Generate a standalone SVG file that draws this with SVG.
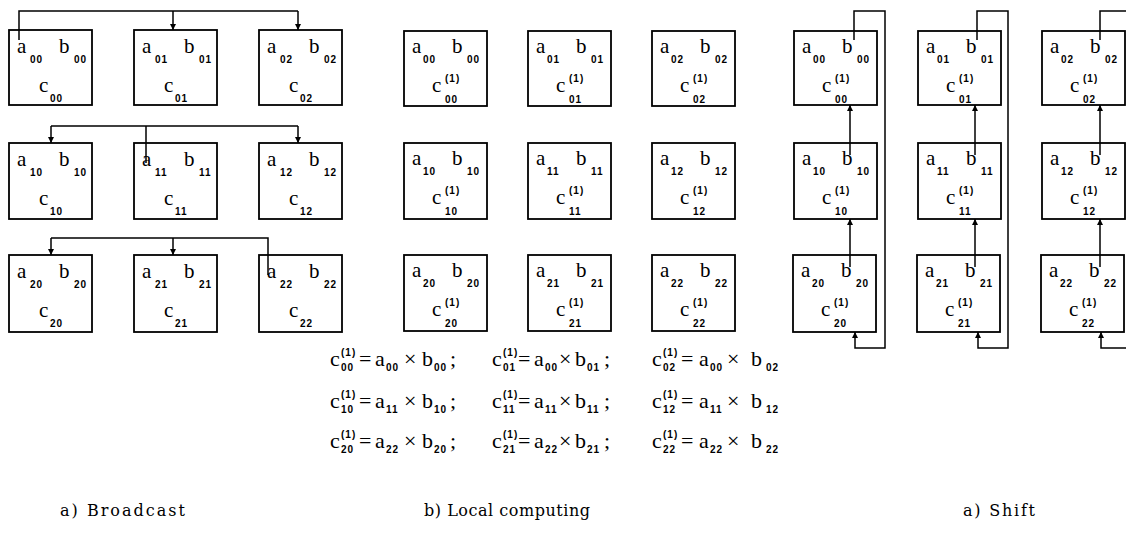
<svg xmlns="http://www.w3.org/2000/svg" width="1126" height="546" viewBox="0 0 1126 546">
<style>
.box{fill:#fff;stroke:#000;stroke-width:1.8}
.ln{fill:none;stroke:#000;stroke-width:1.5}
.m{font-family:"Liberation Serif",serif;font-size:21px;fill:#000}
.s{font-family:"Liberation Sans",sans-serif;font-size:10px;font-weight:bold;letter-spacing:1px;fill:#000}
.f{font-family:"Liberation Serif",serif;font-size:22px;fill:#000}
.fs{font-family:"Liberation Sans",sans-serif;font-size:10px;font-weight:bold;letter-spacing:1px}
.cap{font-family:"DejaVu Serif",serif;font-size:16px;fill:#000}
</style>
<defs>
<marker id="ah" markerWidth="6" markerHeight="6" refX="6" refY="3" orient="auto" markerUnits="userSpaceOnUse" viewBox="0 0 6 6">
<path d="M0,0 L6,3 L0,6 Z" fill="#000"/>
</marker>
</defs>

<!-- Broadcast nodes -->
<g id="A00" transform="translate(9,30)"><rect class="box" width="83" height="75"/><text class="m" x="8" y="23">a</text><text class="s" x="21" y="33">00</text><text class="m" x="50" y="23">b</text><text class="s" x="65" y="33">00</text><text class="m" x="30" y="62">c</text><text class="s" x="41" y="72">00</text></g>
<g id="A01" transform="translate(134,30)"><rect class="box" width="83" height="75"/><text class="m" x="8" y="23">a</text><text class="s" x="21" y="33">01</text><text class="m" x="50" y="23">b</text><text class="s" x="65" y="33">01</text><text class="m" x="30" y="62">c</text><text class="s" x="41" y="72">01</text></g>
<g id="A02" transform="translate(259,30)"><rect class="box" width="83" height="75"/><text class="m" x="8" y="23">a</text><text class="s" x="21" y="33">02</text><text class="m" x="50" y="23">b</text><text class="s" x="65" y="33">02</text><text class="m" x="30" y="62">c</text><text class="s" x="41" y="72">02</text></g>
<g id="A10" transform="translate(9,143)"><rect class="box" width="83" height="76"/><text class="m" x="8" y="23">a</text><text class="s" x="21" y="33">10</text><text class="m" x="50" y="23">b</text><text class="s" x="65" y="33">10</text><text class="m" x="30" y="62">c</text><text class="s" x="41" y="72">10</text></g>
<g id="A11" transform="translate(134,143)"><rect class="box" width="83" height="76"/><text class="m" x="8" y="23">a</text><text class="s" x="21" y="33">11</text><text class="m" x="50" y="23">b</text><text class="s" x="65" y="33">11</text><text class="m" x="30" y="62">c</text><text class="s" x="41" y="72">11</text></g>
<g id="A12" transform="translate(259,143)"><rect class="box" width="83" height="76"/><text class="m" x="8" y="23">a</text><text class="s" x="21" y="33">12</text><text class="m" x="50" y="23">b</text><text class="s" x="65" y="33">12</text><text class="m" x="30" y="62">c</text><text class="s" x="41" y="72">12</text></g>
<g id="A20" transform="translate(9,255)"><rect class="box" width="83" height="77"/><text class="m" x="8" y="23">a</text><text class="s" x="21" y="33">20</text><text class="m" x="50" y="23">b</text><text class="s" x="65" y="33">20</text><text class="m" x="30" y="62">c</text><text class="s" x="41" y="72">20</text></g>
<g id="A21" transform="translate(134,255)"><rect class="box" width="83" height="77"/><text class="m" x="8" y="23">a</text><text class="s" x="21" y="33">21</text><text class="m" x="50" y="23">b</text><text class="s" x="65" y="33">21</text><text class="m" x="30" y="62">c</text><text class="s" x="41" y="72">21</text></g>
<g id="A22" transform="translate(259,255)"><rect class="box" width="83" height="77"/><text class="m" x="8" y="23">a</text><text class="s" x="21" y="33">22</text><text class="m" x="50" y="23">b</text><text class="s" x="65" y="33">22</text><text class="m" x="30" y="62">c</text><text class="s" x="41" y="72">22</text></g>

<!-- Local computing nodes -->
<g id="B00" transform="translate(404,31)"><rect class="box" width="83" height="75"/><text class="m" x="8" y="22">a</text><text class="s" x="19" y="32">00</text><text class="m" x="48" y="22">b</text><text class="s" x="63" y="32">00</text><text class="s" x="41" y="51">(1)</text><text class="m" x="28" y="61">c</text><text class="s" x="41" y="72">00</text></g>
<g id="B01" transform="translate(528,31)"><rect class="box" width="83" height="75"/><text class="m" x="8" y="22">a</text><text class="s" x="19" y="32">01</text><text class="m" x="48" y="22">b</text><text class="s" x="63" y="32">01</text><text class="s" x="41" y="51">(1)</text><text class="m" x="28" y="61">c</text><text class="s" x="41" y="72">01</text></g>
<g id="B02" transform="translate(652,31)"><rect class="box" width="83" height="75"/><text class="m" x="8" y="22">a</text><text class="s" x="19" y="32">02</text><text class="m" x="48" y="22">b</text><text class="s" x="63" y="32">02</text><text class="s" x="41" y="51">(1)</text><text class="m" x="28" y="61">c</text><text class="s" x="41" y="72">02</text></g>
<g id="B10" transform="translate(404,143)"><rect class="box" width="83" height="76"/><text class="m" x="8" y="22">a</text><text class="s" x="19" y="32">10</text><text class="m" x="48" y="22">b</text><text class="s" x="63" y="32">10</text><text class="s" x="41" y="51">(1)</text><text class="m" x="28" y="61">c</text><text class="s" x="41" y="72">10</text></g>
<g id="B11" transform="translate(528,143)"><rect class="box" width="83" height="76"/><text class="m" x="8" y="22">a</text><text class="s" x="19" y="32">11</text><text class="m" x="48" y="22">b</text><text class="s" x="63" y="32">11</text><text class="s" x="41" y="51">(1)</text><text class="m" x="28" y="61">c</text><text class="s" x="41" y="72">11</text></g>
<g id="B12" transform="translate(652,143)"><rect class="box" width="83" height="76"/><text class="m" x="8" y="22">a</text><text class="s" x="19" y="32">12</text><text class="m" x="48" y="22">b</text><text class="s" x="63" y="32">12</text><text class="s" x="41" y="51">(1)</text><text class="m" x="28" y="61">c</text><text class="s" x="41" y="72">12</text></g>
<g id="B20" transform="translate(404,255)"><rect class="box" width="83" height="76"/><text class="m" x="8" y="22">a</text><text class="s" x="19" y="32">20</text><text class="m" x="48" y="22">b</text><text class="s" x="63" y="32">20</text><text class="s" x="41" y="51">(1)</text><text class="m" x="28" y="61">c</text><text class="s" x="41" y="72">20</text></g>
<g id="B21" transform="translate(528,255)"><rect class="box" width="83" height="76"/><text class="m" x="8" y="22">a</text><text class="s" x="19" y="32">21</text><text class="m" x="48" y="22">b</text><text class="s" x="63" y="32">21</text><text class="s" x="41" y="51">(1)</text><text class="m" x="28" y="61">c</text><text class="s" x="41" y="72">21</text></g>
<g id="B22" transform="translate(652,255)"><rect class="box" width="83" height="76"/><text class="m" x="8" y="22">a</text><text class="s" x="19" y="32">22</text><text class="m" x="48" y="22">b</text><text class="s" x="63" y="32">22</text><text class="s" x="41" y="51">(1)</text><text class="m" x="28" y="61">c</text><text class="s" x="41" y="72">22</text></g>

<!-- Shift nodes -->
<g id="C00" transform="translate(794,31)"><rect class="box" width="83" height="74"/><text class="m" x="8" y="22">a</text><text class="s" x="19" y="32">00</text><text class="m" x="48" y="22">b</text><text class="s" x="63" y="32">00</text><text class="s" x="41" y="51">(1)</text><text class="m" x="28" y="61">c</text><text class="s" x="41" y="72">00</text></g>
<g id="C01" transform="translate(918,31)"><rect class="box" width="83" height="74"/><text class="m" x="8" y="22">a</text><text class="s" x="19" y="32">01</text><text class="m" x="48" y="22">b</text><text class="s" x="63" y="32">01</text><text class="s" x="41" y="51">(1)</text><text class="m" x="28" y="61">c</text><text class="s" x="41" y="72">01</text></g>
<g id="C02" transform="translate(1042,31)"><rect class="box" width="83" height="74"/><text class="m" x="8" y="22">a</text><text class="s" x="19" y="32">02</text><text class="m" x="48" y="22">b</text><text class="s" x="63" y="32">02</text><text class="s" x="41" y="51">(1)</text><text class="m" x="28" y="61">c</text><text class="s" x="41" y="72">02</text></g>
<g id="C10" transform="translate(794,143)"><rect class="box" width="83" height="76"/><text class="m" x="8" y="22">a</text><text class="s" x="19" y="32">10</text><text class="m" x="48" y="22">b</text><text class="s" x="63" y="32">10</text><text class="s" x="41" y="51">(1)</text><text class="m" x="28" y="61">c</text><text class="s" x="41" y="72">10</text></g>
<g id="C11" transform="translate(918,143)"><rect class="box" width="83" height="76"/><text class="m" x="8" y="22">a</text><text class="s" x="19" y="32">11</text><text class="m" x="48" y="22">b</text><text class="s" x="63" y="32">11</text><text class="s" x="41" y="51">(1)</text><text class="m" x="28" y="61">c</text><text class="s" x="41" y="72">11</text></g>
<g id="C12" transform="translate(1042,143)"><rect class="box" width="83" height="76"/><text class="m" x="8" y="22">a</text><text class="s" x="19" y="32">12</text><text class="m" x="48" y="22">b</text><text class="s" x="63" y="32">12</text><text class="s" x="41" y="51">(1)</text><text class="m" x="28" y="61">c</text><text class="s" x="41" y="72">12</text></g>
<g id="C20" transform="translate(793,255)"><rect class="box" width="83" height="77"/><text class="m" x="8" y="22">a</text><text class="s" x="19" y="32">20</text><text class="m" x="48" y="22">b</text><text class="s" x="63" y="32">20</text><text class="s" x="41" y="51">(1)</text><text class="m" x="28" y="61">c</text><text class="s" x="41" y="72">20</text></g>
<g id="C21" transform="translate(917,255)"><rect class="box" width="83" height="77"/><text class="m" x="8" y="22">a</text><text class="s" x="19" y="32">21</text><text class="m" x="48" y="22">b</text><text class="s" x="63" y="32">21</text><text class="s" x="41" y="51">(1)</text><text class="m" x="28" y="61">c</text><text class="s" x="41" y="72">21</text></g>
<g id="C22" transform="translate(1041,255)"><rect class="box" width="83" height="77"/><text class="m" x="8" y="22">a</text><text class="s" x="19" y="32">22</text><text class="m" x="48" y="22">b</text><text class="s" x="63" y="32">22</text><text class="s" x="41" y="51">(1)</text><text class="m" x="28" y="61">c</text><text class="s" x="41" y="72">22</text></g>

<!-- Connectors -->
<g id="connectors">
<path class="ln" d="M19,40 V11 H298"/>
<path class="ln" d="M173,11 V30" marker-end="url(#ah)"/>
<path class="ln" d="M298,11 V30" marker-end="url(#ah)"/>
<path class="ln" d="M146,163 V126 M51,126 H298"/>
<path class="ln" d="M51,126 V143" marker-end="url(#ah)"/>
<path class="ln" d="M298,126 V143" marker-end="url(#ah)"/>
<path class="ln" d="M268,275 V238 H51"/>
<path class="ln" d="M51,238 V255" marker-end="url(#ah)"/>
<path class="ln" d="M173,238 V255" marker-end="url(#ah)"/>

<path class="ln" d="M854,40 V11 H885 V348 H855 V332" marker-end="url(#ah)"/>
<path class="ln" d="M850,155 V105" marker-end="url(#ah)"/>
<path class="ln" d="M850,267 V219" marker-end="url(#ah)"/>
<path class="ln" d="M977,40 V11 H1008 V348 H978 V332" marker-end="url(#ah)"/>
<path class="ln" d="M975,155 V105" marker-end="url(#ah)"/>
<path class="ln" d="M975,267 V219" marker-end="url(#ah)"/>
<path class="ln" d="M1100,40 V11 H1130 M1130,348 H1101 V332" marker-end="url(#ah)"/>
<path class="ln" d="M1100,155 V105" marker-end="url(#ah)"/>
<path class="ln" d="M1100,267 V219" marker-end="url(#ah)"/>
</g>

<!-- Formulas -->
<g id="formulas">
<text class="f" y="366"><tspan x="330">c</tspan><tspan class="fs" x="341" dy="5">00</tspan><tspan class="fs" x="341" dy="-15">(1)</tspan><tspan x="359" dy="10">=</tspan><tspan x="375">a</tspan><tspan class="fs" x="386" dy="5">00</tspan><tspan x="404" dy="-5">×</tspan><tspan x="422">b</tspan><tspan class="fs" x="434" dy="5">00</tspan><tspan x="450" dy="-5">;</tspan><tspan x="492">c</tspan><tspan class="fs" x="503" dy="5">01</tspan><tspan class="fs" x="503" dy="-15">(1)</tspan><tspan x="518" dy="10">=</tspan><tspan x="534">a</tspan><tspan class="fs" x="545" dy="5">00</tspan><tspan x="559" dy="-5">×</tspan><tspan x="575">b</tspan><tspan class="fs" x="587" dy="5">01</tspan><tspan x="604" dy="-5">;</tspan><tspan x="652">c</tspan><tspan class="fs" x="663" dy="5">02</tspan><tspan class="fs" x="663" dy="-15">(1)</tspan><tspan x="681" dy="10">=</tspan><tspan x="699">a</tspan><tspan class="fs" x="710" dy="5">00</tspan><tspan x="727" dy="-5">×</tspan><tspan x="751">b</tspan><tspan class="fs" x="766" dy="5">02</tspan></text>
<text class="f" y="408"><tspan x="330">c</tspan><tspan class="fs" x="341" dy="5">10</tspan><tspan class="fs" x="341" dy="-15">(1)</tspan><tspan x="359" dy="10">=</tspan><tspan x="375">a</tspan><tspan class="fs" x="386" dy="5">11</tspan><tspan x="404" dy="-5">×</tspan><tspan x="422">b</tspan><tspan class="fs" x="434" dy="5">10</tspan><tspan x="450" dy="-5">;</tspan><tspan x="492">c</tspan><tspan class="fs" x="503" dy="5">11</tspan><tspan class="fs" x="503" dy="-15">(1)</tspan><tspan x="518" dy="10">=</tspan><tspan x="534">a</tspan><tspan class="fs" x="545" dy="5">11</tspan><tspan x="559" dy="-5">×</tspan><tspan x="575">b</tspan><tspan class="fs" x="587" dy="5">11</tspan><tspan x="604" dy="-5">;</tspan><tspan x="652">c</tspan><tspan class="fs" x="663" dy="5">12</tspan><tspan class="fs" x="663" dy="-15">(1)</tspan><tspan x="681" dy="10">=</tspan><tspan x="699">a</tspan><tspan class="fs" x="710" dy="5">11</tspan><tspan x="727" dy="-5">×</tspan><tspan x="751">b</tspan><tspan class="fs" x="766" dy="5">12</tspan></text>
<text class="f" y="448"><tspan x="330">c</tspan><tspan class="fs" x="341" dy="5">20</tspan><tspan class="fs" x="341" dy="-15">(1)</tspan><tspan x="359" dy="10">=</tspan><tspan x="375">a</tspan><tspan class="fs" x="386" dy="5">22</tspan><tspan x="404" dy="-5">×</tspan><tspan x="422">b</tspan><tspan class="fs" x="434" dy="5">20</tspan><tspan x="450" dy="-5">;</tspan><tspan x="492">c</tspan><tspan class="fs" x="503" dy="5">21</tspan><tspan class="fs" x="503" dy="-15">(1)</tspan><tspan x="518" dy="10">=</tspan><tspan x="534">a</tspan><tspan class="fs" x="545" dy="5">22</tspan><tspan x="559" dy="-5">×</tspan><tspan x="575">b</tspan><tspan class="fs" x="587" dy="5">21</tspan><tspan x="604" dy="-5">;</tspan><tspan x="652">c</tspan><tspan class="fs" x="663" dy="5">22</tspan><tspan class="fs" x="663" dy="-15">(1)</tspan><tspan x="681" dy="10">=</tspan><tspan x="699">a</tspan><tspan class="fs" x="710" dy="5">22</tspan><tspan x="727" dy="-5">×</tspan><tspan x="751">b</tspan><tspan class="fs" x="766" dy="5">22</tspan></text>
</g>

<!-- Captions -->
<g id="captions">
<text class="cap" x="60" y="516" textLength="125" lengthAdjust="spacing">a) Broadcast</text>
<text class="cap" x="424" y="516" textLength="166" lengthAdjust="spacing">b) Local computing</text>
<text class="cap" x="963" y="516" textLength="72" lengthAdjust="spacing">a) Shift</text>
</g>
</svg>
